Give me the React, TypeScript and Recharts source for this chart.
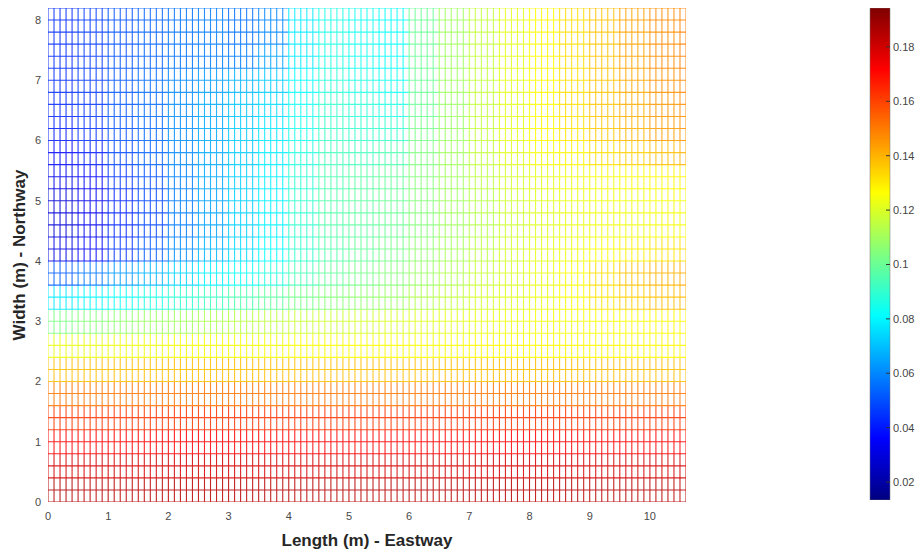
import { ScatterChart, Scatter, XAxis, YAxis, BarChart, Bar } from 'recharts';

// mesh extent (m) and spacing of the mesh lines
const X_MAX = 10.6;
const Y_MAX = 8.2;
const X_STEP = 0.1;
const Y_STEP = 0.2;

const xTicks = [0, 1, 2, 3, 4, 5, 6, 7, 8, 9, 10];
const yTicks = [0, 1, 2, 3, 4, 5, 6, 7, 8];
const barTicks = [0.02, 0.04, 0.06, 0.08, 0.1, 0.12, 0.14, 0.16, 0.18];
const colorRange = [0.0134, 0.1943];

// value per 0.5 m column band (x = 0..0.5, 0.5..1, ... 10.5..10.6)
const colBands = [0, 0.5, 1, 1.5, 2, 2.5, 3, 3.5, 4, 4.5, 5, 5.5, 6, 6.5, 7, 7.5, 8, 8.5, 9, 9.5, 10, 10.5];
// per 0.4 m row band, bottom to top (y = 0..0.4, 0.4..0.8, ... 8.0..8.2)
const rowBands = [0, 0.4, 0.8, 1.2, 1.6, 2.0, 2.4, 2.8, 3.2, 3.6, 4.0, 4.4, 4.8, 5.2, 5.6, 6.0, 6.4, 6.8, 7.2, 7.6, 8.0];
const valueRows = [
  [0.185, 0.184, 0.184, 0.184, 0.184, 0.184, 0.184, 0.184, 0.184, 0.184, 0.184, 0.184, 0.184, 0.184, 0.184, 0.184, 0.184, 0.184, 0.184, 0.184, 0.184, 0.184],
  [0.179, 0.179, 0.179, 0.179, 0.179, 0.179, 0.179, 0.179, 0.179, 0.179, 0.179, 0.179, 0.179, 0.179, 0.179, 0.179, 0.179, 0.179, 0.179, 0.179, 0.179, 0.179],
  [0.172, 0.172, 0.172, 0.172, 0.172, 0.172, 0.172, 0.172, 0.172, 0.172, 0.172, 0.172, 0.172, 0.172, 0.172, 0.172, 0.172, 0.172, 0.172, 0.172, 0.172, 0.172],
  [0.163, 0.163, 0.163, 0.163, 0.163, 0.163, 0.163, 0.163, 0.163, 0.163, 0.163, 0.163, 0.163, 0.163, 0.163, 0.163, 0.163, 0.163, 0.163, 0.163, 0.163, 0.163],
  [0.151, 0.151, 0.151, 0.151, 0.151, 0.151, 0.151, 0.151, 0.151, 0.151, 0.151, 0.151, 0.151, 0.151, 0.151, 0.151, 0.151, 0.151, 0.151, 0.151, 0.151, 0.151],
  [0.138, 0.138, 0.138, 0.138, 0.138, 0.138, 0.138, 0.138, 0.138, 0.138, 0.138, 0.138, 0.138, 0.138, 0.138, 0.138, 0.138, 0.138, 0.138, 0.138, 0.138, 0.138],
  [0.123, 0.123, 0.124, 0.124, 0.125, 0.125, 0.125, 0.125, 0.126, 0.126, 0.126, 0.126, 0.126, 0.126, 0.127, 0.127, 0.127, 0.127, 0.127, 0.127, 0.127, 0.127],
  [0.103, 0.105, 0.107, 0.109, 0.11, 0.112, 0.114, 0.115, 0.117, 0.118, 0.119, 0.12, 0.121, 0.122, 0.123, 0.124, 0.125, 0.125, 0.126, 0.126, 0.127, 0.127],
  [0.078, 0.08, 0.083, 0.086, 0.089, 0.092, 0.095, 0.098, 0.102, 0.105, 0.107, 0.109, 0.113, 0.116, 0.119, 0.121, 0.123, 0.126, 0.131, 0.135, 0.138, 0.139],
  [0.052, 0.057, 0.063, 0.068, 0.074, 0.079, 0.083, 0.087, 0.094, 0.099, 0.102, 0.105, 0.109, 0.113, 0.117, 0.12, 0.123, 0.126, 0.132, 0.137, 0.14, 0.141],
  [0.031, 0.036, 0.045, 0.052, 0.061, 0.068, 0.075, 0.081, 0.09, 0.096, 0.099, 0.102, 0.107, 0.111, 0.115, 0.119, 0.122, 0.124, 0.126, 0.129, 0.131, 0.132],
  [0.029, 0.033, 0.042, 0.048, 0.058, 0.065, 0.073, 0.079, 0.09, 0.096, 0.098, 0.1, 0.105, 0.11, 0.114, 0.118, 0.121, 0.123, 0.124, 0.124, 0.125, 0.125],
  [0.029, 0.033, 0.042, 0.048, 0.058, 0.065, 0.073, 0.079, 0.09, 0.096, 0.098, 0.1, 0.105, 0.11, 0.114, 0.118, 0.121, 0.123, 0.124, 0.124, 0.125, 0.125],
  [0.032, 0.036, 0.045, 0.05, 0.059, 0.066, 0.073, 0.079, 0.089, 0.095, 0.097, 0.099, 0.105, 0.11, 0.115, 0.119, 0.122, 0.124, 0.125, 0.126, 0.127, 0.128],
  [0.036, 0.04, 0.048, 0.053, 0.06, 0.066, 0.072, 0.078, 0.087, 0.093, 0.093, 0.095, 0.104, 0.11, 0.116, 0.121, 0.125, 0.128, 0.132, 0.135, 0.138, 0.14],
  [0.04, 0.044, 0.05, 0.054, 0.061, 0.066, 0.072, 0.077, 0.085, 0.091, 0.09, 0.09, 0.102, 0.109, 0.116, 0.122, 0.127, 0.131, 0.136, 0.14, 0.144, 0.146],
  [0.042, 0.045, 0.051, 0.055, 0.061, 0.066, 0.071, 0.075, 0.084, 0.09, 0.088, 0.086, 0.1, 0.109, 0.116, 0.122, 0.127, 0.132, 0.137, 0.141, 0.145, 0.147],
  [0.043, 0.046, 0.051, 0.055, 0.06, 0.064, 0.068, 0.072, 0.082, 0.088, 0.086, 0.084, 0.1, 0.11, 0.116, 0.122, 0.127, 0.132, 0.137, 0.142, 0.146, 0.148],
  [0.043, 0.046, 0.05, 0.053, 0.056, 0.058, 0.058, 0.065, 0.078, 0.086, 0.084, 0.082, 0.1, 0.11, 0.116, 0.122, 0.127, 0.132, 0.137, 0.143, 0.147, 0.149],
  [0.043, 0.046, 0.05, 0.053, 0.056, 0.058, 0.056, 0.06, 0.078, 0.086, 0.084, 0.082, 0.1, 0.11, 0.116, 0.122, 0.127, 0.132, 0.137, 0.143, 0.147, 0.149],
  [0.043, 0.046, 0.05, 0.053, 0.056, 0.058, 0.056, 0.06, 0.078, 0.086, 0.084, 0.082, 0.1, 0.11, 0.116, 0.122, 0.127, 0.132, 0.137, 0.143, 0.147, 0.149],
];

const font = '"Liberation Sans", Arial, sans-serif';

// main plot box
const margin = { top: 8, right: 238, bottom: 25, left: 18 };
const Y_AXIS_W = 30;
const X_AXIS_H = 30;
const PLOT_W = 924 - margin.left - margin.right - Y_AXIS_W;
const PLOT_H = 557 - margin.top - margin.bottom - X_AXIS_H;
const CELL_W = (PLOT_W / X_MAX) * X_STEP;
const CELL_H = (PLOT_H / Y_MAX) * Y_STEP;

// jet colormap, washed toward white like the thin mesh lines in the original
function jet(v: number, mix = 0.85) {
  const t = Math.max(0, Math.min(1, (v - colorRange[0]) / (colorRange[1] - colorRange[0])));
  const ch = (c: number) => {
    const k = Math.max(0, Math.min(1, c));
    return Math.round(255 * (k * mix + (1 - mix)));
  };
  const r = Math.min(4 * t - 1.5, -4 * t + 4.5);
  const g = Math.min(4 * t - 0.5, -4 * t + 3.5);
  const b = Math.min(4 * t + 0.5, -4 * t + 2.5);
  return `rgb(${ch(r)},${ch(g)},${ch(b)})`;
}

// one point per (column band, row band); each draws its patch of mesh lines
type Block = { x: number; y: number; v: number; nx: number; ny: number; lastCol: boolean; topRow: boolean };
const blocks: Block[] = [];
rowBands.forEach((y, r) => {
  colBands.forEach((x, c) => {
    const x1 = c < colBands.length - 1 ? colBands[c + 1] : X_MAX;
    const y1 = r < rowBands.length - 1 ? rowBands[r + 1] : Y_MAX;
    blocks.push({
      x,
      y,
      v: valueRows[r][c],
      nx: Math.round((x1 - x) / X_STEP),
      ny: Math.round((y1 - y) / Y_STEP),
      lastCol: c === colBands.length - 1,
      topRow: r === rowBands.length - 1,
    });
  });
});

const MeshBlock = (props: any) => {
  const { cx, cy, payload } = props;
  const { nx, ny, lastCol, topRow } = payload as Block;
  const right = cx + nx * CELL_W;
  const top = cy - ny * CELL_H;
  let d = '';
  const vCount = lastCol ? nx : nx - 1;
  for (let k = 0; k <= vCount; k++) {
    const xx = cx + k * CELL_W;
    d += `M${xx.toFixed(2)},${(cy + 0.5).toFixed(2)}V${(top - 0.5).toFixed(2)}`;
  }
  const hCount = topRow ? ny : ny - 1;
  for (let m = 0; m <= hCount; m++) {
    const yy = cy - m * CELL_H;
    d += `M${(cx - 0.5).toFixed(2)},${yy.toFixed(2)}H${(right + 0.5).toFixed(2)}`;
  }
  return <path d={d} stroke={jet(payload.v)} strokeWidth={1.1} fill="none" />;
};

const BarTick = (props: any) => {
  const { x, y, payload } = props;
  return (
    <g>
      <line x1={x - 7} x2={x - 3} y1={y} y2={y} stroke="#333" strokeWidth={1} />
      <text x={x} y={y} dy={4} fontSize={11} fill="#444" fontFamily={font}>
        {payload.value}
      </text>
    </g>
  );
};

const barData = [{ name: 'c', range: colorRange }];

export default function App() {
  const tickStyle = { fontSize: 11, fill: '#4a4a4a', fontFamily: font };
  return (
    <div style={{ position: 'absolute', left: 0, top: 0, width: 924, height: 557, background: '#fff' }}>
      <ScatterChart width={924} height={557} margin={margin}>
        <XAxis
          type="number"
          dataKey="x"
          domain={[0, X_MAX]}
          ticks={xTicks}
          height={X_AXIS_H}
          axisLine={false}
          tickLine={false}
          tickSize={6}
          tickMargin={4}
          tick={tickStyle}
          allowDataOverflow
        />
        <YAxis
          type="number"
          dataKey="y"
          domain={[0, Y_MAX]}
          ticks={yTicks}
          width={Y_AXIS_W}
          axisLine={false}
          tickLine={false}
          tickSize={6}
          tickMargin={1}
          tick={tickStyle}
          allowDataOverflow
        />
        <Scatter data={blocks} shape={MeshBlock} isAnimationActive={false} />
      </ScatterChart>

      <div style={{ position: 'absolute', left: 860, top: 0 }}>
        <BarChart width={64} height={557} data={barData} margin={{ top: 8, right: 4, bottom: 57, left: 10 }} barCategoryGap={0}>
          <defs>
            <linearGradient id="jet" x1="0" y1="1" x2="0" y2="0">
              <stop offset="0" stopColor="#000080" />
              <stop offset="0.125" stopColor="#0000ff" />
              <stop offset="0.375" stopColor="#00ffff" />
              <stop offset="0.625" stopColor="#ffff00" />
              <stop offset="0.875" stopColor="#ff0000" />
              <stop offset="1" stopColor="#800000" />
            </linearGradient>
          </defs>
          <XAxis dataKey="name" hide />
          <YAxis
            orientation="right"
            type="number"
            domain={colorRange}
            ticks={barTicks}
            width={30}
            axisLine={false}
            tickLine={false}
            tickSize={0}
            tickMargin={3}
            tick={<BarTick />}
            allowDataOverflow
          />
          <Bar dataKey="range" fill="url(#jet)" stroke="#777" strokeWidth={0.5} isAnimationActive={false} />
        </BarChart>
      </div>

      <svg width={924} height={557} style={{ position: 'absolute', left: 0, top: 0, pointerEvents: 'none' }}>
        <text x={367} y={546} textAnchor="middle" fontSize={17} fontWeight="bold" fill="#262626" fontFamily={font}>
          Length (m) - Eastway
        </text>
        <text
          x={25}
          y={255}
          textAnchor="middle"
          fontSize={17}
          fontWeight="bold"
          fill="#262626"
          fontFamily={font}
          transform="rotate(-90 25 255)"
        >
          Width (m) - Northway
        </text>
      </svg>
    </div>
  );
}
